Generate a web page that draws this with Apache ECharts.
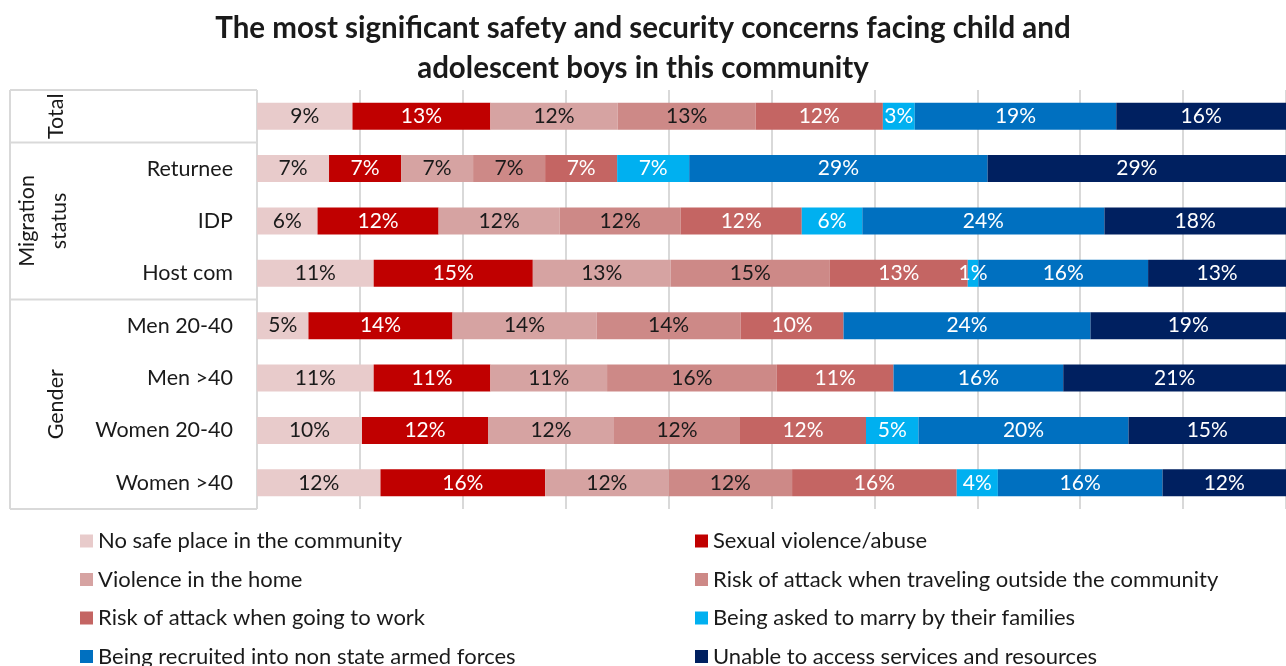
<!DOCTYPE html>
<html>
<head>
<meta charset="utf-8">
<script src="https://cdn.jsdelivr.net/npm/echarts@6/dist/echarts.min.js"></script>
<style>
  html, body { margin: 0; padding: 0; background: #fff; }
  #chart { width: 1286px; height: 666px; }
</style>
</head>
<body>
<div id="chart"></div>
<script>
// Rows of the chart, top to bottom
const categories = ['Total', 'Returnee', 'IDP', 'Host com', 'Men 20-40', 'Men >40', 'Women 20-40', 'Women >40'];

// Concern names (legend order)
const concerns = [
  'No safe place in the community',
  'Sexual violence/abuse',
  'Violence in the home',
  'Risk of attack when traveling outside the community',
  'Risk of attack when going to work',
  'Being asked to marry by their families',
  'Being recruited into non state armed forces',
  'Unable to access services and resources'
];

// Reported percentages per concern, one value per row
const noSafePlace    = [9, 7, 6, 11, 5, 11, 10, 12];
const sexualViolence = [13, 7, 12, 15, 14, 11, 12, 16];
const violenceHome   = [12, 7, 12, 13, 14, 11, 12, 12];
const riskTraveling  = [13, 7, 12, 15, 14, 16, 12, 12];
const riskWork       = [12, 7, 12, 13, 10, 11, 12, 16];
const askedToMarry   = [3, 7, 6, 1, 0, 0, 5, 4];
const recruited      = [19, 29, 24, 16, 24, 16, 20, 16];
const unableAccess   = [16, 29, 18, 13, 19, 21, 15, 12];

// Row groups shown in the left-hand header column
const groups = [
  { lines: ['Total'], from: 0, to: 0 },
  { lines: ['Migration', 'status'], from: 1, to: 3 },
  { lines: ['Gender'], from: 4, to: 7 }
];

const values = [noSafePlace, sexualViolence, violenceHome, riskTraveling, riskWork, askedToMarry, recruited, unableAccess];
const colors = ['#E8CBCB', '#C00000', '#D6A3A2', '#CD8987', '#C46563', '#00B0F0', '#0070C0', '#002060'];
const labelColors = ['#1a1a1a', '#ffffff', '#1a1a1a', '#1a1a1a', '#ffffff', '#ffffff', '#ffffff', '#ffffff'];

// Each bar is a 100% stack: segment share = value / row total
const rowTotals = categories.map((_, r) => values.reduce((s, arr) => s + arr[r], 0));

const FONT = 'Lato, "Open Sans", sans-serif';
const TEXT = '#1a1a1a';

const series = concerns.map((name, i) => ({
  name,
  type: 'bar',
  stack: 'all',
  barWidth: 27,
  itemStyle: { color: colors[i] },
  label: {
    show: true,
    position: 'inside',
    color: labelColors[i],
    fontFamily: FONT,
    fontSize: 21,
    formatter: p => (p.data.raw > 0 ? p.data.raw + '%' : '')
  },
  emphasis: { disabled: true },
  data: values[i].map((v, r) => ({ value: v / rowTotals[r] * 100, raw: v }))
}));

const leftNames = concerns.filter((_, i) => i % 2 === 0);
const rightNames = concerns.filter((_, i) => i % 2 === 1);
const legendBase = {
  orient: 'vertical',
  top: 530,
  height: 300,
  padding: 0,
  itemGap: 16.5,
  itemWidth: 13,
  itemHeight: 13,
  icon: 'rect',
  selectedMode: false,
  textStyle: { fontFamily: FONT, fontSize: 22, color: TEXT, lineHeight: 22 }
};

const chart = echarts.init(document.getElementById('chart'), null, { renderer: 'canvas' });

chart.setOption({
  animation: false,
  backgroundColor: '#ffffff',
  title: {
    text: 'The most significant safety and security concerns facing child and\nadolescent boys in this community',
    left: 'center',
    top: 3,
    textStyle: { fontFamily: FONT, fontWeight: 'bold', fontSize: 29.5, color: TEXT, lineHeight: 40 }
  },
  legend: [
    Object.assign({}, legendBase, { left: 80, data: leftNames }),
    Object.assign({}, legendBase, { left: 695, data: rightNames })
  ],
  grid: { left: 257, top: 90, width: 1037, height: 419, containLabel: false },
  xAxis: {
    type: 'value',
    min: 0,
    max: 100,
    interval: 10,
    axisLabel: { show: false },
    axisLine: { show: false },
    axisTick: { show: false },
    splitLine: { show: true, lineStyle: { color: '#D9D9D9', width: 2 } }
  },
  yAxis: {
    type: 'category',
    inverse: true,
    data: categories,
    axisLine: { show: false },
    axisTick: { show: false },
    axisLabel: {
      margin: 24,
      fontFamily: FONT,
      fontSize: 21.5,
      color: TEXT,
      formatter: v => (v === 'Total' ? '' : v)
    }
  },
  series
});

// Header column: group separators and rotated group names
const yAt = i => chart.convertToPixel({ yAxisIndex: 0 }, i);
const band = yAt(1) - yAt(0);
const edgeTop = i => yAt(i) - band / 2;
const edgeBottom = i => yAt(i) + band / 2;
const xLeft = 10, xRight = 257;
const lineStyle = { stroke: '#D9D9D9', lineWidth: 2 };

const graphics = [];
graphics.push({
  type: 'line', silent: true,
  shape: { x1: xLeft, y1: edgeTop(0), x2: xLeft, y2: edgeBottom(categories.length - 1) },
  style: lineStyle
});
graphics.push({
  type: 'line', silent: true,
  shape: { x1: xLeft, y1: edgeTop(0), x2: xRight, y2: edgeTop(0) },
  style: lineStyle
});
groups.forEach(g => {
  const yb = edgeBottom(g.to);
  graphics.push({
    type: 'line', silent: true,
    shape: { x1: xLeft, y1: yb, x2: xRight, y2: yb },
    style: lineStyle
  });
  const yc = (edgeTop(g.from) + edgeBottom(g.to)) / 2;
  graphics.push({
    type: 'text', silent: true,
    x: g.lines.length > 1 ? 43 : 56,
    y: yc,
    rotation: Math.PI / 2,
    style: {
      text: g.lines.join('\n'),
      fontFamily: FONT,
      fontSize: 21.5,
      lineHeight: 32,
      fill: TEXT,
      align: 'center',
      verticalAlign: 'middle'
    }
  });
});

chart.setOption({ graphic: graphics });
</script>
</body>
</html>
